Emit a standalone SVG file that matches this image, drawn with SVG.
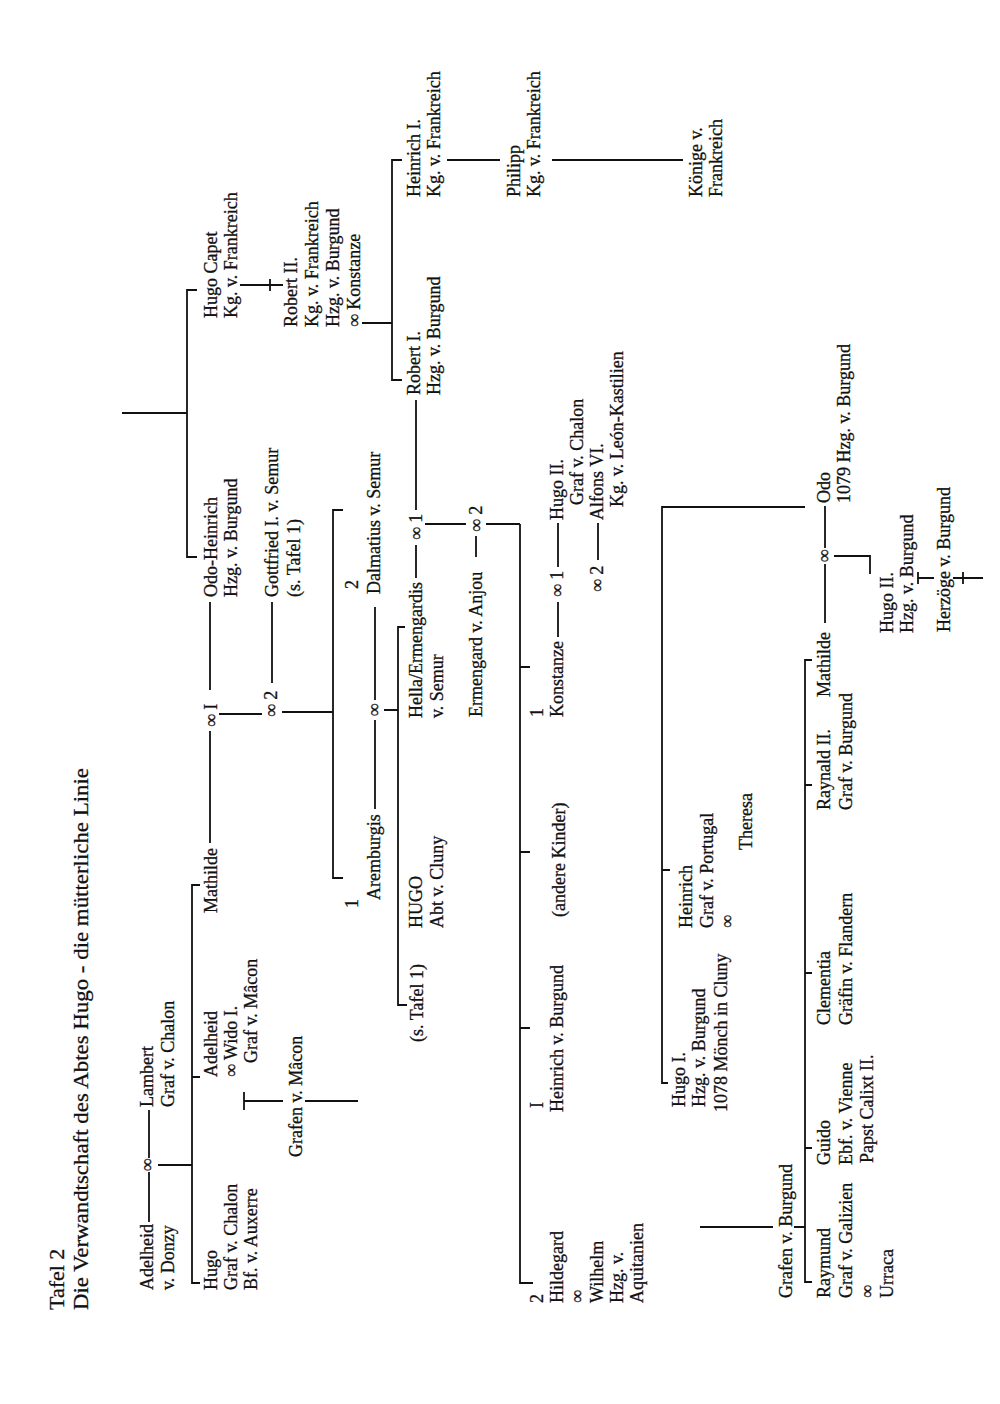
<svg xmlns="http://www.w3.org/2000/svg" width="1000" height="1404" viewBox="0 0 1000 1404">
<style>
.t{font-family:"Liberation Serif","Times New Roman",serif;font-size:18px;fill:#111;stroke:#111;stroke-width:0.3}
.h{font-size:22px}
.c{stroke:#111;stroke-width:1.8;fill:none}
</style>
<rect width="1000" height="1404" fill="#fff"/>
<g id="diagram" transform="translate(0,1404) rotate(-90)">
<g id="connectors" class="c">
<path d="M182 149H232M246 149H294M239 158V192"/>
<path d="M121 200V192H519V200M327 192V200"/>
<path d="M303 244V283M303 305V358M294 244H312"/>
<path d="M561 210H673M714 210H802M690 219V262M721 272H802M692 282V333"/>
<path d="M526 343V333H894V343"/>
<path d="M595 375H684M704 375H797M694 384V398"/>
<path d="M399 407V398H777V405"/>
<path d="M826 416H859M894 416H1004M847 476H868M880 425V466M880 486V520"/>
<path d="M121 533V520H880M376 520V530M552 520V530M737 520V530"/>
<path d="M767 558H802M837 558H881M844 598H881"/>
<path d="M321 668V662H897V805M534 662V670"/>
<path d="M177 700V773M177 794V805"/>
<path d="M122 812V805H744V812M256 805V812M431 805V812M619 805V812"/>
<path d="M781 825H840M856 825H898M848 834V870H830"/>
<path d="M826 918V934M820 918H832M826 953V983M820 963H832"/>
<path d="M1081 362V392M1024 402V392H1244V402M1244 447V500M1244 552V683"/>
<path d="M1119 240V283M1113 270H1125"/>
<path d="M847 197V187H1114V197M991 122V187"/>
</g>
<g id="title" class="t">
<text x="94" y="64" class="t h">Tafel 2</text>
<text x="94" y="88" class="t h" textLength="542" lengthAdjust="spacingAndGlyphs">Die Verwandtschaft des Abtes Hugo - die mütterliche Linie</text>
</g>
<g id="n-adelheid-donzy" class="t"><text x="114" y="153">Adelheid</text><text x="114" y="174">v. Donzy</text></g>
<g id="m-adelheid-lambert" class="t"><text x="239" y="153" text-anchor="middle">∞</text></g>
<g id="n-lambert" class="t"><text x="297" y="153">Lambert</text><text x="297" y="174">Graf v. Chalon</text></g>
<g id="n-hugo-chalon" class="t"><text x="114" y="217">Hugo</text><text x="114" y="237">Graf v. Chalon</text><text x="114" y="257">Bf. v. Auxerre</text></g>
<g id="n-adelheid-wido" class="t"><text x="327" y="217">Adelheid</text><text x="327" y="237">∞ Wido I.</text><text x="341" y="257">Graf v. Mâcon</text></g>
<g id="n-grafen-macon" class="t"><text x="247" y="302">Grafen v. Mâcon</text></g>
<g id="n-mathilde" class="t"><text x="491" y="217">Mathilde</text></g>
<g id="m-mathilde-1" class="t"><text x="677" y="217">∞ I</text></g>
<g id="m-mathilde-2" class="t"><text x="687" y="277">∞ 2</text></g>
<g id="n-odo-heinrich" class="t"><text x="807" y="217">Odo-Heinrich</text><text x="807" y="237">Hzg. v. Burgund</text></g>
<g id="n-gottfried" class="t"><text x="807" y="278">Gottfried I. v. Semur</text><text x="807" y="300">(s. Tafel 1)</text></g>
<g id="n-hugo-capet" class="t"><text x="1086" y="217">Hugo Capet</text><text x="1086" y="237">Kg. v. Frankreich</text></g>
<g id="n-robert2" class="t"><text x="1077" y="297">Robert II.</text><text x="1077" y="318">Kg. v. Frankreich</text><text x="1077" y="339">Hzg. v. Burgund</text><text x="1077" y="360">∞ Konstanze</text></g>
<g id="n-aremburgis" class="t"><text x="496" y="358">1</text><text x="504" y="380">Aremburgis</text></g>
<g id="m-aremburgis" class="t"><text x="694" y="380" text-anchor="middle">∞</text></g>
<g id="n-dalmatius" class="t"><text x="815" y="358">2</text><text x="810" y="380">Dalmatius v. Semur</text></g>
<g id="n-tafel1" class="t"><text x="362" y="423">(s. Tafel 1)</text></g>
<g id="n-hugo-cluny" class="t"><text x="476" y="422">HUGO</text><text x="476" y="443">Abt v. Cluny</text></g>
<g id="n-hella" class="t"><text x="686" y="422">Hella/Ermengardis</text><text x="686" y="443">v. Semur</text></g>
<g id="m-hella" class="t"><text x="864" y="422">∞ 1</text></g>
<g id="n-ermengard" class="t"><text x="687" y="482">Ermengard v. Anjou</text></g>
<g id="m-ermengard" class="t"><text x="872" y="482">∞ 2</text></g>
<g id="n-robert1" class="t"><text x="1009" y="420">Robert I.</text><text x="1009" y="440">Hzg. v. Burgund</text></g>
<g id="n-heinrich1" class="t"><text x="1207" y="420">Heinrich I.</text><text x="1207" y="440">Kg. v. Frankreich</text></g>
<g id="n-philipp" class="t"><text x="1207" y="520">Philipp</text><text x="1207" y="540">Kg. v. Frankreich</text></g>
<g id="n-koenige" class="t"><text x="1207" y="702">Könige v.</text><text x="1207" y="722">Frankreich</text></g>
<g id="n-hildegard" class="t"><text x="101" y="543">2</text><text x="101" y="563">Hildegard</text><text x="101" y="583">∞</text><text x="101" y="603">Wilhelm</text><text x="101" y="623">Hzg. v.</text><text x="101" y="643">Aquitanien</text></g>
<g id="n-heinrich-burgund" class="t"><text x="296" y="543">I</text><text x="292" y="563">Heinrich v. Burgund</text></g>
<g id="n-andere" class="t"><text x="487" y="565">(andere Kinder)</text></g>
<g id="n-konstanze" class="t"><text x="687" y="543">1</text><text x="687" y="563">Konstanze</text></g>
<g id="m-konstanze-1" class="t"><text x="807" y="563">∞ 1</text></g>
<g id="m-konstanze-2" class="t"><text x="812" y="603">∞ 2</text></g>
<g id="n-hugo2-chalon" class="t"><text x="884" y="563">Hugo II.</text><text x="899" y="583">Graf v. Chalon</text></g>
<g id="n-alfons" class="t"><text x="884" y="603">Alfons VI.</text><text x="897" y="623">Kg. v. León-Kastilien</text></g>
<g id="n-hugo1" class="t"><text x="297" y="685">Hugo I.</text><text x="297" y="705">Hzg. v. Burgund</text><text x="292" y="727">1078 Mönch in Cluny</text></g>
<g id="n-heinrich-portugal" class="t"><text x="476" y="692">Heinrich</text><text x="476" y="713">Graf v. Portugal</text><text x="476" y="733">∞</text><text x="554" y="752">Theresa</text></g>
<g id="n-grafen-burgund" class="t"><text x="106" y="792">Grafen v. Burgund</text></g>
<g id="n-raymund" class="t"><text x="106" y="830">Raymund</text><text x="106" y="852">Graf v. Galizien</text><text x="106" y="873">∞</text><text x="106" y="893">Urraca</text></g>
<g id="n-guido" class="t"><text x="239" y="830">Guido</text><text x="239" y="852">Ebf. v. Vienne</text><text x="241" y="873">Papst Calixt II.</text></g>
<g id="n-clementia" class="t"><text x="379" y="830">Clementia</text><text x="379" y="852">Gräfin v. Flandern</text></g>
<g id="n-raynald" class="t"><text x="594" y="830">Raynald II.</text><text x="594" y="852">Graf v. Burgund</text></g>
<g id="n-mathilde2" class="t"><text x="707" y="830">Mathilde</text></g>
<g id="m-mathilde-odo" class="t"><text x="848" y="830" text-anchor="middle">∞</text></g>
<g id="n-odo" class="t"><text x="901" y="830">Odo</text><text x="901" y="850">1079 Hzg. v. Burgund</text></g>
<g id="n-hugo2-burgund" class="t"><text x="771" y="893">Hugo II.</text><text x="771" y="913">Hzg. v. Burgund</text></g>
<g id="n-herzoege" class="t"><text x="772" y="950">Herzöge v. Burgund</text></g>
</g>
</svg>
